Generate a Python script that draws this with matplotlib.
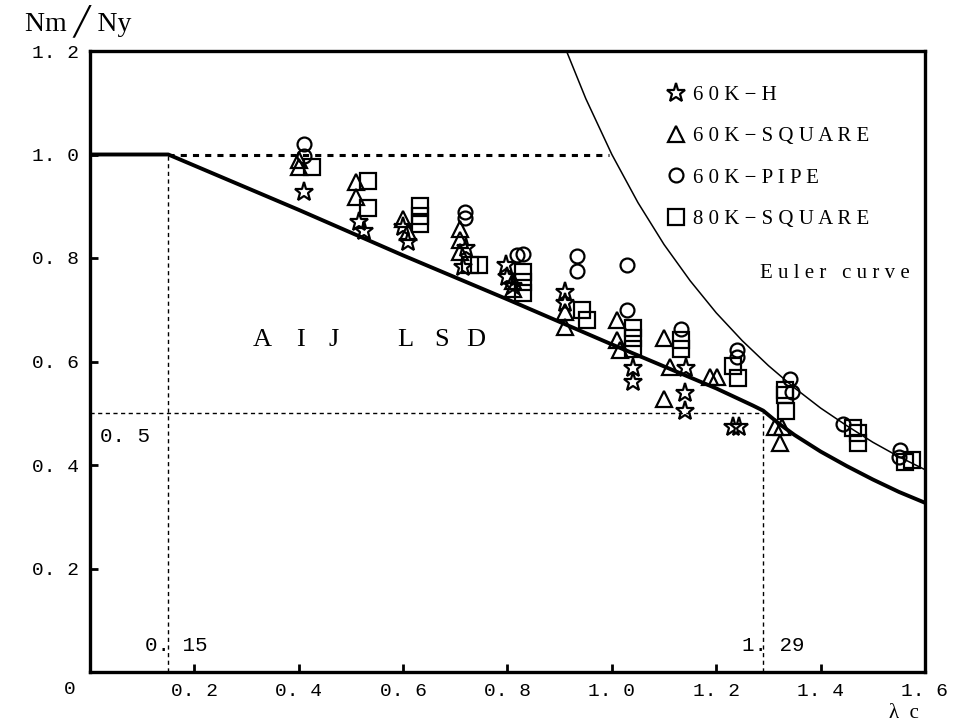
import matplotlib
matplotlib.use("Agg")
import matplotlib.pyplot as plt

# ---------------- data ----------------
h60_x = [0.41, 0.515, 0.525, 0.60, 0.61, 0.72, 0.715, 0.798, 0.80, 0.81, 0.91, 0.91,
         1.04, 1.04, 1.142, 1.14, 1.14, 1.232, 1.243]
h60_y = [0.928, 0.870, 0.853, 0.86, 0.83, 0.82, 0.782, 0.786, 0.763, 0.745, 0.734, 0.714,
         0.587, 0.56, 0.587, 0.539, 0.505, 0.473, 0.473]

sq60_x = [0.40, 0.40, 0.51, 0.51, 0.60, 0.61, 0.709, 0.709, 0.709, 0.81, 0.81, 0.91, 0.91,
          1.01, 1.01, 1.015, 1.10, 1.111, 1.10, 1.188, 1.201, 1.312, 1.326, 1.323]
sq60_y = [0.99, 0.975, 0.946, 0.917, 0.875, 0.85, 0.857, 0.834, 0.811, 0.755, 0.74, 0.695, 0.666,
          0.681, 0.641, 0.622, 0.645, 0.589, 0.527, 0.57, 0.57, 0.473, 0.473, 0.442]

pipe60_x = [0.41, 0.41, 0.718, 0.718, 0.818, 0.83, 0.933, 0.933, 1.029, 1.029, 1.132,
            1.239, 1.239, 1.341, 1.345, 1.442, 1.552, 1.55]
pipe60_y = [1.02, 0.998, 0.888, 0.878, 0.805, 0.807, 0.803, 0.774, 0.786, 0.699, 0.662,
            0.622, 0.608, 0.567, 0.541, 0.479, 0.429, 0.415]

sq80_x = [0.425, 0.533, 0.533, 0.632, 0.632, 0.632, 0.728, 0.745, 0.83, 0.83, 0.83, 0.943, 0.952,
          1.04, 1.04, 1.04, 1.132, 1.132, 1.232, 1.241, 1.331, 1.331, 1.333, 1.462, 1.471, 1.471,
          1.561, 1.575]
sq80_y = [0.975, 0.948, 0.896, 0.90, 0.882, 0.865, 0.787, 0.787, 0.772, 0.753, 0.732, 0.699, 0.68,
          0.664, 0.645, 0.625, 0.641, 0.625, 0.591, 0.568, 0.545, 0.535, 0.504, 0.471, 0.461, 0.442,
          0.405, 0.409]

# AIJ LSD design curve
aij_x = [0.0, 0.15, 0.4, 0.6, 0.8, 1.0, 1.2, 1.27, 1.29, 1.32, 1.35, 1.4, 1.45, 1.5, 1.55, 1.6]
aij_y = [1.0, 1.0, 0.893, 0.805, 0.72, 0.633, 0.548, 0.515, 0.505, 0.48, 0.458, 0.426, 0.398, 0.372, 0.348, 0.327]

# Euler curve
eul_x = [0.913, 0.95, 1.0, 1.05, 1.1, 1.15, 1.2, 1.25, 1.3, 1.35, 1.4, 1.45, 1.5, 1.55, 1.6]
eul_y = [1.2, 1.108, 1.0, 0.907, 0.826, 0.756, 0.694, 0.64, 0.592, 0.549, 0.510, 0.476, 0.444, 0.416, 0.391]

xticks = [0.2, 0.4, 0.6, 0.8, 1.0, 1.2, 1.4, 1.6]
xticklabels = ["0. 2", "0. 4", "0. 6", "0. 8", "1. 0", "1. 2", "1. 4", "1. 6"]
yticks = [0.2, 0.4, 0.6, 0.8, 1.0, 1.2]
yticklabels = ["0. 2", "0. 4", "0. 6", "0. 8", "1. 0", "1. 2"]

series_labels = ["6 0 K \u2212 H", "6 0 K \u2212 S Q U A R E", "6 0 K \u2212 P I P E", "8 0 K \u2212 S Q U A R E"]

# ---------------- figure ----------------
fig = plt.figure(figsize=(9.54, 7.22), dpi=100)
ax = fig.add_axes([90/954, 50/722, 835/954, 621/722])
ax.set_xlim(0, 1.6)
ax.set_ylim(0, 1.2)

mono = "Liberation Mono"
serif = "Liberation Serif"

# reference lines
ax.plot([0.15, 0.995], [1.0, 1.0], color="black", lw=2.2, ls=(0, (2, 2)))
ax.plot([0.15, 0.15], [0, 1.0], color="black", lw=1.0, ls=(0, (3, 2.5)))
ax.plot([0, 1.29], [0.5, 0.5], color="black", lw=1.0, ls=(0, (3, 2.5)))
ax.plot([1.29, 1.29], [0, 0.5], color="black", lw=1.0, ls=(0, (3, 2.5)))

ax.plot(aij_x, aij_y, color="black", lw=2.8, solid_capstyle="butt")
ax.plot(eul_x, eul_y, color="black", lw=1.1)

mk = dict(ls="none", mfc="none", mec="black", mew=1.6)
ax.plot(h60_x, h60_y, marker="*", ms=14, label=series_labels[0], **mk)
ax.plot(sq60_x, sq60_y, marker="^", ms=12, label=series_labels[1], **mk)
ax.plot(pipe60_x, pipe60_y, marker="o", ms=10, label=series_labels[2], **mk)
ax.plot(sq80_x, sq80_y, marker="s", ms=11, label=series_labels[3], **mk)

leg = ax.legend(loc="upper left", bbox_to_anchor=(0.668, 0.975), frameon=False,
                handlelength=0.9, handletextpad=0.35, labelspacing=1.05,
                prop={"family": serif, "size": 15})

# annotations
ax.text(0.02, 0.455, "0. 5", family=mono, fontsize=15, va="center", ha="left")
ax.text(0.105, 0.052, "0. 15", family=mono, fontsize=15, va="center", ha="left")
ax.text(1.249, 0.052, "1. 29", family=mono, fontsize=15, va="center", ha="left")

aij_letters = ["A", "I", "J", "L", "S", "D"]
aij_pos = [0.330, 0.404, 0.466, 0.605, 0.674, 0.740]
for ch, xp in zip(aij_letters, aij_pos):
    ax.text(xp, 0.641, ch, family=serif, fontsize=19, va="center", ha="center")

ax.text(1.283, 0.77, "E u l e r   c u r v e", family=serif, fontsize=15, va="center", ha="left")

# axes styling
for s in ax.spines.values():
    s.set_linewidth(2.4)
ax.set_xticks(xticks)
ax.set_xticklabels(xticklabels, family=mono, fontsize=14)
ax.set_yticks(yticks)
ax.set_yticklabels(yticklabels, family=mono, fontsize=14)
ax.tick_params(direction="in", length=6, width=2, pad=8)
ax.tick_params(axis="x", pad=8)

fig.text(70/954, 1 - 690/722, "0", family=mono, fontsize=14, ha="center", va="center")
fig.text(904/954, 1 - 713/722, "\u03bb  c", family=[serif, "DejaVu Sans"], fontsize=15,
         ha="center", va="center")
fig.text(78/954, 1 - 22/722, "Nm \u2571 Ny", family=[serif, "DejaVu Sans"], fontsize=20,
         ha="center", va="center")

fig.savefig("out.png", dpi=100)
